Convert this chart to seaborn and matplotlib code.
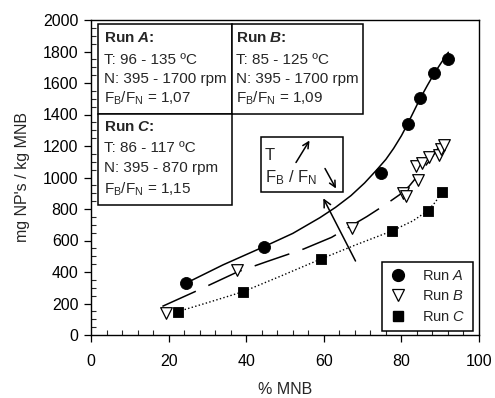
import matplotlib
matplotlib.use("Agg")
import matplotlib.pyplot as plt
import seaborn as sns
import pandas as pd
from matplotlib.patches import Rectangle
from matplotlib.lines import Line2D
from matplotlib.ticker import MultipleLocator

# ---- data ----
runA_x = [24.4, 44.6, 74.8, 81.6, 84.8, 88.5, 91.9]
runA_y = [328, 561, 1027, 1340, 1507, 1666, 1752]
runB_x = [19.3, 37.7, 67.3, 80.5, 81.3, 84.2, 83.8, 85.3, 87.2, 89.6, 90.3, 91.1]
runB_y = [138, 413, 677, 900, 885, 984, 1073, 1094, 1128, 1143, 1180, 1205]
runC_x = [22.3, 39.2, 59.3, 77.5, 86.8, 90.4]
runC_y = [148, 275, 483, 660, 789, 910]

# trend lines
fitA_x = [24.4, 34.0, 44.6, 52.0, 59.0, 63.0, 67.0, 70.5, 73.7, 76.0, 78.0, 80.0, 81.6, 83.2, 84.8, 86.7, 88.5, 90.3, 92.1]
fitA_y = [328, 445, 561, 645, 745, 810, 885, 965, 1050, 1115, 1185, 1265, 1340, 1420, 1500, 1585, 1662, 1730, 1795]
fitB_x = [18.4, 28.3, 37.7, 45.2, 54.8, 62.0, 71.1, 76.0, 79.5, 82.0, 84.0, 87.5, 90.8]
fitB_y = [182, 292, 400, 465, 546, 620, 752, 830, 890, 945, 1005, 1115, 1235]
fitC_x = [22.3, 30.0, 39.2, 49.0, 59.3, 68.0, 77.5, 83.0, 86.8, 88.8, 90.4]
fitC_y = [148, 205, 275, 375, 483, 570, 660, 725, 789, 845, 910]

sns.set_theme(style="ticks")
plt.rcParams['font.family'] = ['Liberation Sans', 'DejaVu Sans']
plt.rcParams['mathtext.fontset'] = 'custom'
plt.rcParams['mathtext.rm'] = 'Liberation Sans'
plt.rcParams['mathtext.it'] = 'Liberation Sans:italic'
plt.rcParams['mathtext.bf'] = 'Liberation Sans:bold:italic'

fig = plt.figure(figsize=(4.95, 3.98), dpi=100)
ax = fig.add_axes([91/495, 1-335/398, 388/495, 315/398])

k = 'black'
ax.plot(fitA_x, fitA_y, color=k, lw=1.1, ls='-')
lb, = ax.plot(fitB_x, fitB_y, color=k, lw=1.1)
lb.set_dashes((24, 9))
ax.plot(fitC_x, fitC_y, color=k, lw=1.0, ls=':')

dfA = pd.DataFrame({'x': runA_x, 'y': runA_y})
dfB = pd.DataFrame({'x': runB_x, 'y': runB_y})
dfC = pd.DataFrame({'x': runC_x, 'y': runC_y})
sns.scatterplot(data=dfA, x='x', y='y', ax=ax, marker='o', s=75, color='black',
                edgecolor='black', linewidth=0.6, zorder=5)
sns.scatterplot(data=dfB, x='x', y='y', ax=ax, marker='v', s=70, facecolor='white',
                edgecolor='black', linewidth=0.9, zorder=5)
sns.scatterplot(data=dfC, x='x', y='y', ax=ax, marker='s', s=50, color='black',
                edgecolor='black', linewidth=0.6, zorder=5)

ax.set_xlim(0, 100)
ax.set_ylim(0, 2000)
ax.xaxis.set_major_locator(MultipleLocator(20))
ax.xaxis.set_minor_locator(MultipleLocator(4))
ax.yaxis.set_major_locator(MultipleLocator(200))
ax.yaxis.set_minor_locator(MultipleLocator(50))
ax.tick_params(axis='both', which='major', direction='out', length=5, width=0.9,
               labelsize=11.5, colors='black')
ax.tick_params(axis='x', which='major', pad=9)
ax.tick_params(axis='y', which='major', pad=4)
ax.tick_params(axis='both', which='minor', direction='in', length=3.5, width=0.8)
for s in ax.spines.values():
    s.set_visible(True)
    s.set_color('black')
    s.set_linewidth(1.0)
ax.set_xlabel('% MNB', fontsize=11.5, labelpad=9)
ax.set_ylabel("mg NP's / kg MNB", fontsize=11.5, labelpad=9)

# ---- info boxes ----
def px(xp, yp):
    return ((xp - 91) / 388, (335 - yp) / 315)

def box(x0, y0, x1, y1):
    a0 = px(x0, y1)
    a1 = px(x1, y0)
    ax.add_patch(Rectangle(a0, a1[0]-a0[0], a1[1]-a0[1], transform=ax.transAxes,
                           fill=True, facecolor='white', edgecolor='black', lw=1.1, zorder=6))

box(98.3, 24, 231.7, 114)
box(231.7, 24, 362.5, 114)
box(98.3, 114, 231.7, 205)

fs = 11
def txt(xp, yp, s, **kw):
    ax.text(*px(xp, yp), s, transform=ax.transAxes, fontsize=kw.pop('fontsize', fs),
            va='center', ha='left', zorder=7, **kw)

txt(104, 38.5, r'Run $\mathbf{A}$:', fontweight='bold')
txt(104, 59.5, 'T: 96 - 135 ºC')
txt(104, 78.5, 'N: 395 - 1700 rpm')
txt(104, 98.5, r'$\mathrm{F_B/F_N}$ = 1,07')
txt(236.5, 38.5, r'Run $\mathbf{B}$:', fontweight='bold')
txt(236.5, 59.5, 'T: 85 - 125 ºC')
txt(236.5, 78.5, 'N: 395 - 1700 rpm')
txt(236.5, 98.5, r'$\mathrm{F_B/F_N}$ = 1,09')
txt(104, 127, r'Run $\mathbf{C}$:', fontweight='bold')
txt(104, 148, 'T: 86 - 117 ºC')
txt(104, 168, 'N: 395 - 870 rpm')
txt(104, 189, r'$\mathrm{F_B/F_N}$ = 1,15')

# T / FB/FN box
box(260.7, 136.7, 343.3, 192)
txt(265, 155.5, 'T', fontsize=12)
txt(265, 178, r'$\mathrm{F_B}$ / $\mathrm{F_N}$', fontsize=12)

def arrow(x0, y0, x1, y1, ms=11):
    ax.annotate('', xy=px(x1, y1), xytext=px(x0, y0), xycoords='axes fraction',
                textcoords='axes fraction',
                arrowprops=dict(arrowstyle='->', color='black', lw=1.1,
                                mutation_scale=ms, shrinkA=0, shrinkB=0), zorder=8)

arrow(296, 162.5, 309.5, 140.5)
arrow(325, 168.5, 336, 188.5)
arrow(355.5, 261, 323.3, 198.3, ms=13)

# legend
handles = [
    Line2D([], [], ls='none', marker='o', ms=8.5, mfc='black', mec='black'),
    Line2D([], [], ls='none', marker='v', ms=8.5, mfc='white', mec='black', mew=0.9),
    Line2D([], [], ls='none', marker='s', ms=7, mfc='black', mec='black'),
]
labels = [r'Run $\mathit{A}$', r'Run $\mathit{B}$', r'Run $\mathit{C}$']
leg = ax.legend(handles, labels, loc='lower right', bbox_to_anchor=px(472.5, 330.5),
                bbox_transform=ax.transAxes, fontsize=10.5, frameon=True, fancybox=False,
                edgecolor='black', framealpha=1, borderpad=0.45, labelspacing=0.45,
                handletextpad=1.0, handlelength=1.3, borderaxespad=0)
leg.get_frame().set_linewidth(1.1)

fig.savefig('out.png', dpi=100)
